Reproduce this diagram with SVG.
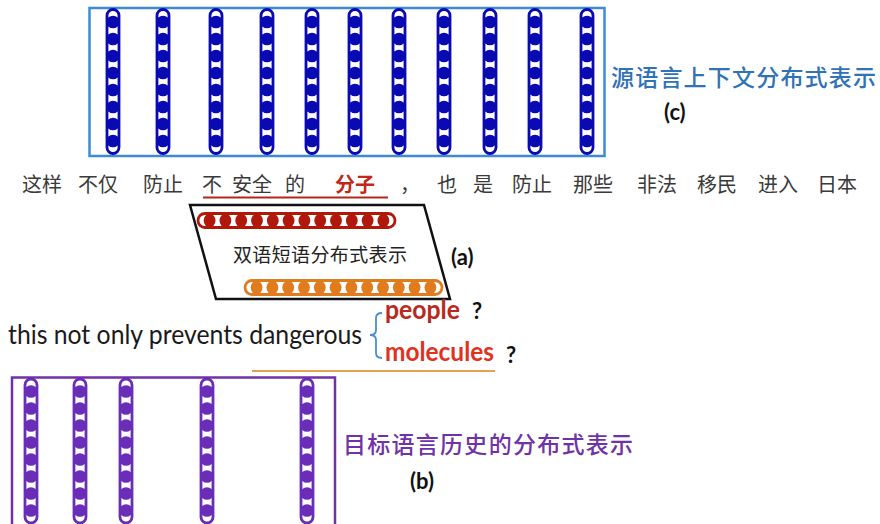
<svg xmlns="http://www.w3.org/2000/svg" xmlns:xlink="http://www.w3.org/1999/xlink" width="880" height="524" viewBox="0 0 880 524">
<style>
.zh{font-family:"Noto Sans CJK SC",sans-serif;font-weight:500;}
.sent{font-family:"Noto Sans CJK SC",sans-serif;font-size:20px;fill:#3a3a3a;}
.en{font-family:Lato,"Open Sans",sans-serif;}
.lbl{font-family:Lato,"Open Sans",sans-serif;font-weight:bold;font-size:22px;fill:#111;}
</style>
<defs>
<clipPath id="vclip"><rect x="-6" y="0" width="12" height="144" rx="6"/></clipPath>
<g id="vchain">
<rect x="-6" y="0" width="12" height="144" rx="6" fill="#fff"/>
<g clip-path="url(#vclip)" fill="currentColor">
<ellipse cx="0" cy="12.5" rx="6.6" ry="6.3"/><ellipse cx="0" cy="29.5" rx="6.6" ry="6.3"/>
<ellipse cx="0" cy="46.5" rx="6.6" ry="6.3"/><ellipse cx="0" cy="63.5" rx="6.6" ry="6.3"/>
<ellipse cx="0" cy="80.5" rx="6.6" ry="6.3"/><ellipse cx="0" cy="97.5" rx="6.6" ry="6.3"/>
<ellipse cx="0" cy="114.5" rx="6.6" ry="6.3"/><ellipse cx="0" cy="131.5" rx="6.6" ry="6.3"/>
</g>
<rect x="-6" y="0" width="12" height="144" rx="6" fill="none" stroke="currentColor" stroke-width="2.8"/>
</g>
<clipPath id="hclip"><rect x="0" y="-7" width="197" height="14" rx="7"/></clipPath>
<g id="hchain">
<rect x="0" y="-7" width="197" height="14" rx="7" fill="#fff"/>
<g clip-path="url(#hclip)" fill="currentColor">
<ellipse cx="11.6" cy="0" rx="5.9" ry="6.8"/><ellipse cx="27.4" cy="0" rx="5.9" ry="6.8"/>
<ellipse cx="43.2" cy="0" rx="5.9" ry="6.8"/><ellipse cx="59" cy="0" rx="5.9" ry="6.8"/>
<ellipse cx="74.8" cy="0" rx="5.9" ry="6.8"/><ellipse cx="90.6" cy="0" rx="5.9" ry="6.8"/>
<ellipse cx="106.4" cy="0" rx="5.9" ry="6.8"/><ellipse cx="122.2" cy="0" rx="5.9" ry="6.8"/>
<ellipse cx="138" cy="0" rx="5.9" ry="6.8"/><ellipse cx="153.8" cy="0" rx="5.9" ry="6.8"/>
<ellipse cx="169.6" cy="0" rx="5.9" ry="6.8"/><ellipse cx="185.4" cy="0" rx="5.9" ry="6.8"/>
</g>
<rect x="0" y="-7" width="197" height="14" rx="7" fill="none" stroke="currentColor" stroke-width="2.8"/>
</g>
</defs>

<g id="source-context">
<rect x="89.5" y="8" width="515" height="148" fill="none" stroke="#3d8bd4" stroke-width="2.5"/>
<g style="color:#0a0ab2">
<use href="#vchain" x="113" y="9.5"/><use href="#vchain" x="163" y="9.5"/>
<use href="#vchain" x="216" y="9.5"/><use href="#vchain" x="267" y="9.5"/>
<use href="#vchain" x="312" y="9.5"/><use href="#vchain" x="355" y="9.5"/>
<use href="#vchain" x="399" y="9.5"/><use href="#vchain" x="444" y="9.5"/>
<use href="#vchain" x="490" y="9.5"/><use href="#vchain" x="535" y="9.5"/>
<use href="#vchain" x="587" y="9.5"/>
</g>
<text class="zh" x="611" y="86" font-size="23" fill="#2f72b8" textLength="265" lengthAdjust="spacing">源语言上下文分布式表示</text>
<text class="lbl" x="664" y="120">(c)</text>
</g>

<g id="source-sentence">
<text class="sent" x="22" y="192">这样</text>
<text class="sent" x="78" y="192">不仅</text>
<text class="sent" x="143" y="192">防止</text>
<text class="sent" x="202" y="192">不</text>
<text class="sent" x="232" y="192">安全</text>
<text class="sent" x="285" y="192">的</text>
<text class="sent" x="335" y="192" style="fill:#c0281c;font-weight:bold">分子</text>
<text class="sent" x="400" y="192">，</text>
<text class="sent" x="437" y="192">也</text>
<text class="sent" x="473" y="192">是</text>
<text class="sent" x="512" y="192">防止</text>
<text class="sent" x="573" y="192">那些</text>
<text class="sent" x="637" y="192">非法</text>
<text class="sent" x="697" y="192">移民</text>
<text class="sent" x="758" y="192">进入</text>
<text class="sent" x="817" y="192">日本</text>
<line x1="203" y1="197.5" x2="388" y2="197.5" stroke="#b3261e" stroke-width="2"/>
</g>

<g id="bilingual-phrase">
<polygon points="190,205 424,205 450,299 216,299" fill="#fff" stroke="#111" stroke-width="2.5" stroke-linejoin="miter"/>
<use href="#hchain" x="198" y="220.5" style="color:#b0180c"/>
<use href="#hchain" x="245" y="287.5" style="color:#e07b1e"/>
<text class="zh" x="233" y="262" font-size="19" fill="#222" style="font-weight:400" textLength="174" lengthAdjust="spacing">双语短语分布式表示</text>
<text class="lbl" x="451" y="265">(a)</text>
</g>

<g id="target-sentence">
<text class="en" x="8" y="344" font-size="26" fill="#1a1a1a" textLength="354" lengthAdjust="spacingAndGlyphs">this not only prevents dangerous</text>
<path d="M382,313 Q376,313 376,318 L376,330 Q376,335 370,335 Q376,335 376,340 L376,353 Q376,358 382,358" fill="none" stroke="#4a8fd2" stroke-width="1.8"/>
<text class="en" x="385" y="319" font-size="26" font-weight="bold" fill="#b82a1e" textLength="75" lengthAdjust="spacingAndGlyphs">people</text>
<text class="en" x="472" y="319" font-size="22" font-weight="bold" fill="#111">?</text>
<text class="en" x="385" y="361" font-size="26" font-weight="bold" fill="#e0321e" textLength="109" lengthAdjust="spacingAndGlyphs">molecules</text>
<text class="en" x="506" y="363" font-size="22" font-weight="bold" fill="#111">?</text>
<line x1="252" y1="371" x2="495" y2="371" stroke="#e8a050" stroke-width="2.2"/>
</g>

<g id="target-history">
<path d="M12,530 L12,377.5 L335,377.5 L335,530" fill="none" stroke="#7030a8" stroke-width="2.5"/>
<g style="color:#6a2db8">
<use href="#vchain" x="31" y="379"/><use href="#vchain" x="80" y="379"/>
<use href="#vchain" x="126" y="379"/><use href="#vchain" x="207" y="379"/>
<use href="#vchain" x="307" y="379"/>
</g>
<text class="zh" x="343" y="453" font-size="23" fill="#7032a8" textLength="290" lengthAdjust="spacing">目标语言历史的分布式表示</text>
<text class="lbl" x="410" y="489">(b)</text>
</g>
</svg>
